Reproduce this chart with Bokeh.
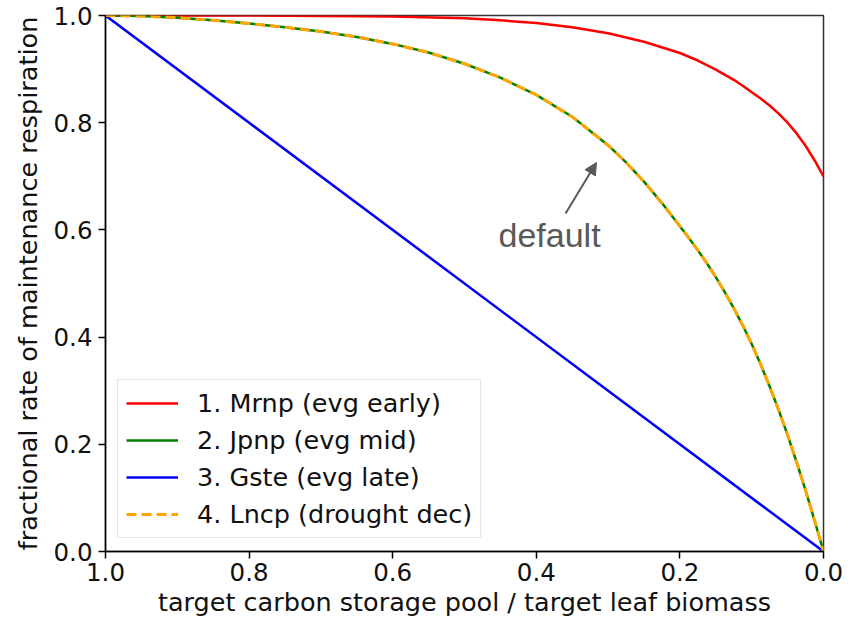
from bokeh.plotting import figure
from bokeh.models import (Range1d, FixedTicker, NumeralTickFormatter, Legend,
                          LegendItem, Arrow, NormalHead, Label)
from bokeh.embed import file_html
from bokeh.resources import INLINE

# storage ratio (x) and fractional maintenance respiration (y) per scheme
x_mrnp = [1.0, 0.9, 0.8, 0.7, 0.6, 0.5, 0.45, 0.4, 0.35, 0.3, 0.25, 0.2,
          0.175, 0.15, 0.125, 0.1125, 0.1, 0.0875, 0.075, 0.0625, 0.05,
          0.0375, 0.025, 0.0125, 0.0]
y_mrnp = [1.000, 1.000, 1.000, 0.999, 0.998, 0.995, 0.991, 0.986, 0.978, 0.967,
          0.951, 0.930, 0.916, 0.899, 0.880, 0.869, 0.857, 0.845, 0.832, 0.817,
          0.800, 0.780, 0.757, 0.730, 0.700]

x_jpnp = [1.0, 0.95, 0.9, 0.85, 0.8, 0.75, 0.7, 0.65, 0.6, 0.55, 0.5, 0.45,
          0.4, 0.35, 0.3, 0.275, 0.25, 0.225, 0.2, 0.1875, 0.175, 0.1625,
          0.15, 0.1375, 0.125, 0.1125, 0.1, 0.0875, 0.075, 0.0625, 0.05,
          0.0375, 0.025, 0.0125, 0.0]
y_jpnp = [1.000, 0.999, 0.996, 0.991, 0.985, 0.978, 0.970, 0.960, 0.947, 0.931,
          0.910, 0.884, 0.852, 0.811, 0.758, 0.726, 0.690, 0.650, 0.607, 0.585,
          0.562, 0.538, 0.512, 0.484, 0.454, 0.422, 0.387, 0.349, 0.308, 0.264,
          0.217, 0.167, 0.114, 0.058, 0.000]

x_gste = [1.0, 0.0]
y_gste = [1.0, 0.0]

x_lncp = list(x_jpnp)
y_lncp = list(y_jpnp)

labels = ["1. Mrnp (evg early)", "2. Jpnp (evg mid)", "3. Gste (evg late)",
          "4. Lncp (drought dec)"]
ticks = [0.0, 0.2, 0.4, 0.6, 0.8, 1.0]

FONT = "DejaVu Sans"

p = figure(frame_width=718, frame_height=536,
           x_range=Range1d(1.0, 0.0), y_range=Range1d(0.0, 1.0),
           output_backend="svg", toolbar_location=None,
           min_border_left=105, min_border_right=35,
           min_border_top=15, min_border_bottom=71,
           background_fill_color="white", border_fill_color="white")

p.xgrid.visible = False
p.ygrid.visible = False
p.outline_line_color = "#333333"
p.outline_line_width = 1.5

for ax in (p.xaxis[0], p.yaxis[0]):
    ax.ticker = FixedTicker(ticks=ticks)
    ax.formatter = NumeralTickFormatter(format="0.0")
    ax.axis_line_color = "black"
    ax.axis_line_width = 1.5
    ax.major_tick_line_color = "black"
    ax.major_tick_line_width = 1.5
    ax.major_tick_in = 0
    ax.major_tick_out = 7
    ax.minor_tick_line_color = None
    ax.major_label_text_font = FONT
    ax.major_label_text_font_size = "24.5px"
    ax.major_label_text_color = "#111111"
    ax.axis_label_text_font = FONT
    ax.axis_label_text_font_size = "25.5px"
    ax.axis_label_text_font_style = "normal"
    ax.axis_label_text_color = "#111111"

p.xaxis.axis_label = "target carbon storage pool / target leaf biomass"
p.yaxis.axis_label = "fractional rate of maintenance respiration"
p.xaxis.major_label_standoff = 4
p.xaxis.axis_label_standoff = 3
p.yaxis.major_label_standoff = 6
p.yaxis.axis_label_standoff = 8

r1 = p.line(x_mrnp, y_mrnp, line_color="red", line_width=2.5,
            line_join="round")
r2 = p.line(x_jpnp, y_jpnp, line_color="green", line_width=2.5,
            line_join="round")
r3 = p.line(x_gste, y_gste, line_color="blue", line_width=2.5)
r4 = p.line(x_lncp, y_lncp, line_color="orange", line_width=3,
            line_dash="10 5", line_join="round")

legend = Legend(
    items=[LegendItem(label=lab, renderers=[r])
           for lab, r in zip(labels, [r1, r2, r3, r4])],
    location=(12, 13), margin=0, padding=8, spacing=7,
    glyph_width=52, glyph_height=30, label_height=30, label_standoff=19,
    label_text_font=FONT, label_text_font_size="25.5px",
    label_text_color="#111111",
    border_line_color="#cccccc", border_line_width=1.5,
    background_fill_color="white", background_fill_alpha=0.85,
)
p.add_layout(legend)

# callout pointing at the default curve
p.add_layout(Arrow(end=NormalHead(size=12, fill_color="#595959",
                                  line_color="#595959"),
                   x_start=0.3593, y_start=0.6306, x_end=0.3162, y_end=0.7257,
                   line_color="#595959", line_width=2))
p.add_layout(Label(x=0.4526, y=0.591, text="default",
                   text_font="Liberation Sans", text_font_size="34px",
                   text_color="#595959", text_baseline="alphabetic"))

open("out.html", "w").write(file_html(p, INLINE))
